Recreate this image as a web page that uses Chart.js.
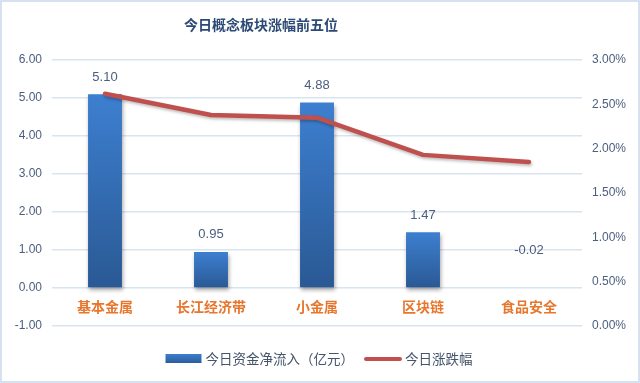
<!DOCTYPE html>
<html>
<head>
<meta charset="utf-8">
<script src="https://cdn.jsdelivr.net/npm/chart.js@4"></script>
<style>
html,body{margin:0;padding:0;background:#fff}
#wrap{width:640px;height:383px}
</style>
</head>
<body>
<div id="wrap"><canvas id="myChart"></canvas></div>
<script>
var categories=["基本金属","长江经济带","小金属","区块链","食品安全"];
var netInflow=[5.10,0.95,4.88,1.47,-0.02];
var changePct=[2.62,2.38,2.35,1.93,1.85];
var leftTicks=[-1,0,1,2,3,4,5,6];
var rightTicks=[0,0.5,1,1.5,2,2.5,3];
var seriesNames=["今日资金净流入（亿元）","今日涨跌幅"];
var chartTitle="今日概念板块涨幅前五位";

var cjk="'Noto Sans CJK SC', sans-serif";
var num="'Liberation Sans', 'Noto Sans CJK SC', sans-serif";

function barFill(ctx){
  var chart=ctx.chart;
  if(!chart.chartArea || ctx.type!=='data') return '#3570b8';
  var ys=chart.scales.y;
  var a=ys.getPixelForValue(ctx.raw), b=ys.getPixelForValue(0);
  if(Math.abs(a-b)<1) return '#3570b8';
  var g=chart.ctx.createLinearGradient(0,Math.min(a,b),0,Math.max(a,b));
  g.addColorStop(0,'#3d7fd0');
  g.addColorStop(1,'#2a5994');
  return g;
}

// shadows, bar labels, title, legend, frame
var extras={
  id:'extras',
  beforeDraw:function(chart){
    var c=chart.ctx;
    c.save();
    c.fillStyle='#fff';
    c.fillRect(0,0,chart.width,chart.height);
    c.strokeStyle='#d7e2f0';
    c.lineWidth=2;
    c.strokeRect(1,1,chart.width-2,chart.height-2);
    c.restore();
  },
  beforeDatasetDraw:function(chart,args){
    var c=chart.ctx;
    c.save();
    if(args.index===0){
      c.shadowColor='rgba(0,0,0,0.35)';
      c.shadowBlur=4;c.shadowOffsetX=1;c.shadowOffsetY=3;
    }else{
      c.shadowColor='rgba(0,0,0,0.25)';
      c.shadowBlur=3;c.shadowOffsetX=1;c.shadowOffsetY=2;
    }
  },
  afterDatasetDraw:function(chart){
    chart.ctx.restore();
  },
  afterDatasetsDraw:function(chart){
    var c=chart.ctx;
    var meta=chart.getDatasetMeta(0);
    c.save();
    c.font='13px '+num;
    c.fillStyle='#4b5e7e';
    c.textAlign='center';
    c.textBaseline='middle';
    meta.data.forEach(function(bar,i){
      var v=netInflow[i];
      var top=Math.min(bar.y,bar.base);
      var y=top-17-(v<0?21:0);
      c.fillText(v.toFixed(2),bar.x,y);
    });
    c.restore();
  },
  afterDraw:function(chart){
    var c=chart.ctx;
    c.save();
    // title
    c.font='bold 14px '+cjk;
    c.fillStyle='#2c4a75';
    c.textAlign='center';
    c.textBaseline='middle';
    c.fillText(chartTitle,261,25);
    // legend
    c.font='13.5px '+cjk;
    c.textAlign='left';
    var w1=c.measureText(seriesNames[0]).width;
    var w2=c.measureText(seriesNames[1]).width;
    var total=36+4+w1+10+38+3+w2;
    var x=319-total/2, y=359;
    var g=c.createLinearGradient(0,y-5,0,y+5);
    g.addColorStop(0,'#3d7fd0');g.addColorStop(1,'#2a5994');
    c.fillStyle=g;
    c.fillRect(x,y-5,36,9);
    x+=40;
    c.fillStyle='#44546a';
    c.fillText(seriesNames[0],x,y);
    x+=w1+10;
    c.strokeStyle='#c0504d';
    c.lineWidth=4;
    c.lineCap='round';
    c.beginPath();c.moveTo(x+2,y);c.lineTo(x+36,y);c.stroke();
    x+=41;
    c.fillText(seriesNames[1],x,y);
    c.restore();
  }
};

new Chart("myChart",{
  type:"bar",
  data:{
    labels:categories,
    datasets:[{
      label:seriesNames[0],
      data:netInflow,
      backgroundColor:barFill,
      yAxisID:'y',
      barPercentage:0.32,
      categoryPercentage:1,
      order:1
    },{
      type:'line',
      label:seriesNames[1],
      data:changePct,
      yAxisID:'y1',
      borderColor:'#c0504d',
      borderWidth:4.5,
      borderCapStyle:'round',
      borderJoinStyle:'round',
      pointRadius:0,
      tension:0,
      fill:false,
      order:0
    }]
  },
  options:{
    responsive:true,
    maintainAspectRatio:false,
    animation:false,
    devicePixelRatio:1,
    layout:{padding:{top:60,bottom:57,left:0,right:0}},
    plugins:{legend:{display:false},title:{display:false},tooltip:{enabled:false}},
    scales:{
      x:{
        position:{y:0},
        grid:{display:false,drawTicks:false},
        border:{display:false},
        ticks:{color:'#e8772e',font:{family:cjk,size:14,weight:'bold'},padding:10}
      },
      y:{
        position:'left',
        min:-1,max:6,
        afterBuildTicks:function(s){s.ticks=leftTicks.map(function(v){return {value:v};});},
        afterFit:function(s){s.width=52;},
        grid:{color:'#d9e4f1',lineWidth:1.5,drawTicks:false},
        border:{display:false},
        ticks:{color:'#4b5e7e',font:{family:num,size:12},padding:10,
          callback:function(v){return Number(v).toFixed(2);}}
      },
      y1:{
        position:'right',
        min:0,max:3,
        afterBuildTicks:function(s){s.ticks=rightTicks.map(function(v){return {value:v};});},
        afterFit:function(s){s.width=58;},
        grid:{display:false,drawTicks:false},
        border:{display:false},
        ticks:{color:'#4b5e7e',font:{family:num,size:12},padding:10,
          callback:function(v){return Number(v).toFixed(2)+'%';}}
      }
    }
  },
  plugins:[extras]
});
</script>
</body>
</html>
